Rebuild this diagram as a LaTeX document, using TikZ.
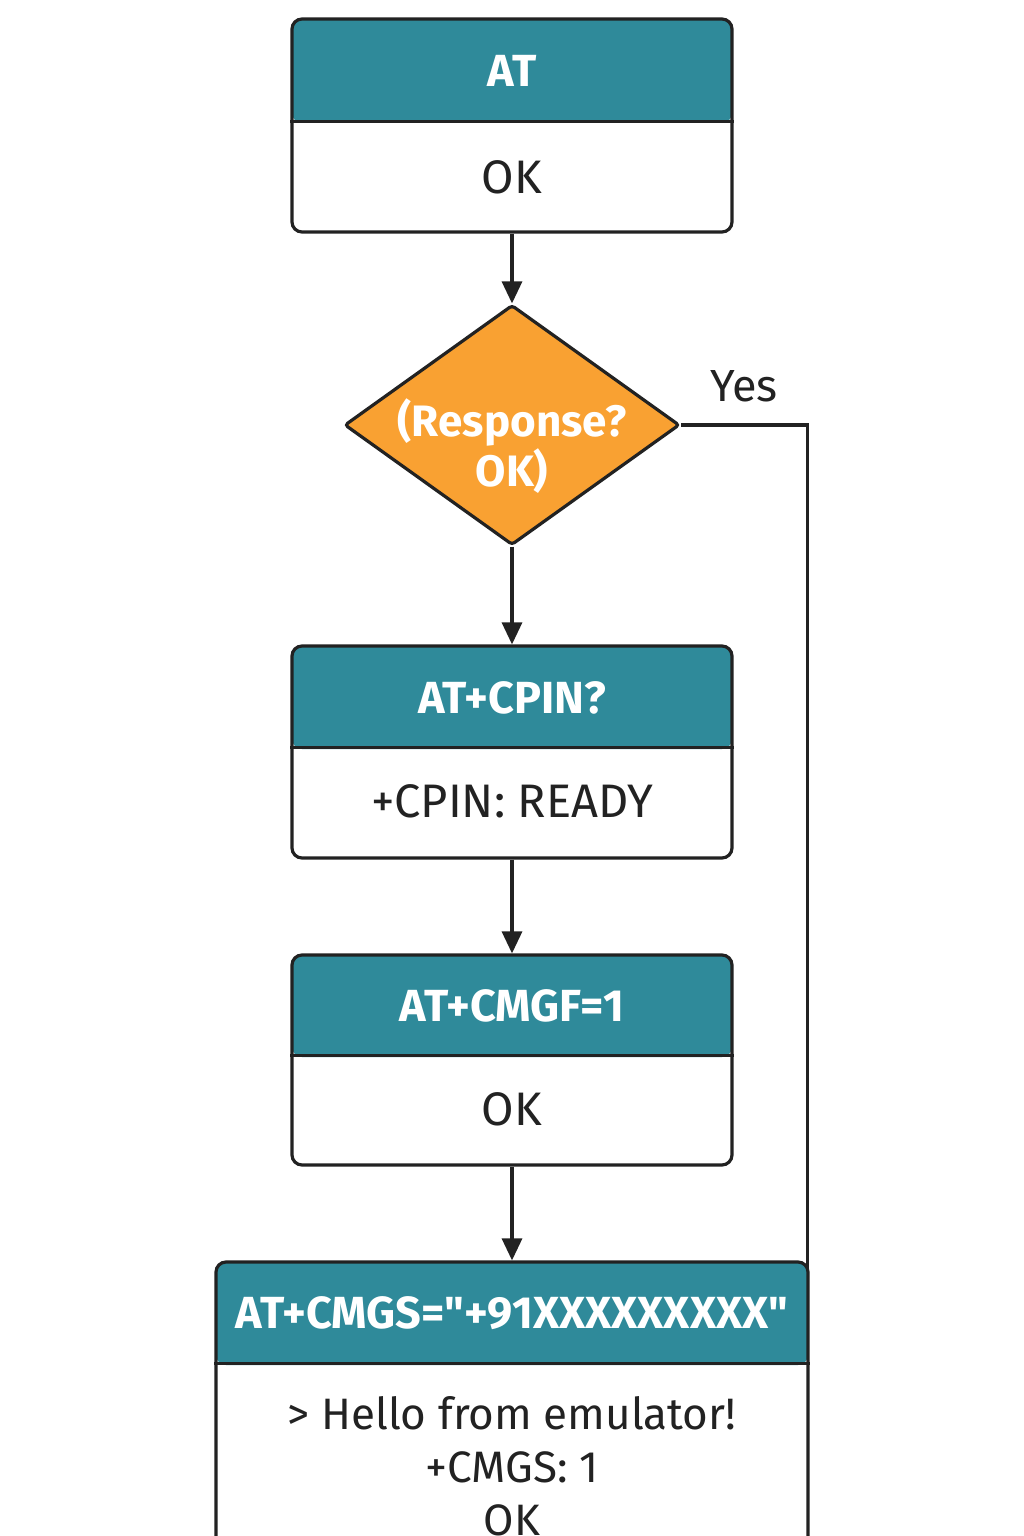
\documentclass[tikz,border=0pt]{standalone}
\usepackage{fontspec}
\setmainfont{Fira Sans}[Ligatures=TeXOff]
\usetikzlibrary{shapes.geometric,arrows.meta}
\definecolor{teal1}{HTML}{2F8A9A}
\definecolor{orng}{HTML}{F9A132}
\definecolor{ink}{HTML}{222222}
\tikzset{
  stage/.style={draw=ink, line width=3.2, rounded corners=10, inner sep=0, fill=white},
  hdr/.style={path picture={\fill[teal1] (path picture bounding box.north west) rectangle ([yshift=-#1]path picture bounding box.north east);}},
  head/.style={text=white, inner sep=0, font=\fontsize{45}{52}\selectfont\bfseries},
  body/.style={text=ink, inner sep=0, align=center, font=\fontsize{47}{54}\selectfont},
  divider/.style={draw=ink, line width=3.2},
  conn/.style={draw=ink, line width=3.2, -{Triangle[length=22,width=20]}},
  decision/.style={diamond, draw=ink, line width=3.2, fill=orng, inner sep=0, aspect=1.4, minimum width=335, minimum height=240, rounded corners=3},
  dtext/.style={text=white, inner sep=0, align=center, font=\fontsize{44}{50}\selectfont\bfseries},
  lbl/.style={text=ink, inner sep=0, font=\fontsize{45}{50}\selectfont},
}
\begin{document}
\begin{tikzpicture}[x=1pt,y=-1pt]
\path[use as bounding box, clip] (0,0) rectangle (1024,1536);
\fill[white] (0,0) rectangle (1024,1536);

% box 1
\node[stage, hdr=104pt, minimum width=440, minimum height=213] (b1) at (512,125.5) {};
\draw[divider] ([yshift=-104pt]b1.north west) -- ([yshift=-104pt]b1.north east);
\node[head] (b1h) at (512,71) {AT};
\node[body] (b1b) at (512,177) {OK};

% decision
\node[decision] (d) at (512,425) {};
\node[dtext] (dt) at (512,446) {(Response?\\OK)};

% box 2
\node[stage, hdr=103pt, minimum width=440, minimum height=212] (b2) at (512,752) {};
\draw[divider] ([yshift=-103pt]b2.north west) -- ([yshift=-103pt]b2.north east);
\node[head] (b2h) at (512,698) {AT+CPIN?};
\node[body] (b2b) at (512,801) {+CPIN: READY};

% box 3
\node[stage, hdr=102pt, minimum width=440, minimum height=210] (b3) at (512,1060) {};
\draw[divider] ([yshift=-102pt]b3.north west) -- ([yshift=-102pt]b3.north east);
\node[head] (b3h) at (512,1006) {AT+CMGF=1};
\node[body] (b3b) at (512,1109) {OK};

% box 4
\node[stage, hdr=103pt, minimum width=592, minimum height=378] (b4) at (512,1451) {};
\draw[divider] ([yshift=-103pt]b4.north west) -- ([yshift=-103pt]b4.north east);
\node[head] (b4h) at (512,1313) {AT+CMGS="+91XXXXXXXXX"};
\node[body, anchor=north, font=\fontsize{44}{53}\selectfont] (b4b) at (512,1396) {> Hello from emulator!\\+CMGS: 1\\OK};

% connectors
\draw[conn] (b1.south) -- (d.north);
\draw[conn] (d.south) -- (b2.north);
\draw[conn] (b2.south) -- (b3.north);
\draw[conn] (b3.south) -- (b4.north);
\draw[draw=ink, line width=3.2] (d.east) -| ([xshift=-2pt,yshift=-10pt]b4.north east);
\node[lbl] (yes) at (744,386) {Yes};
\end{tikzpicture}
\end{document}
